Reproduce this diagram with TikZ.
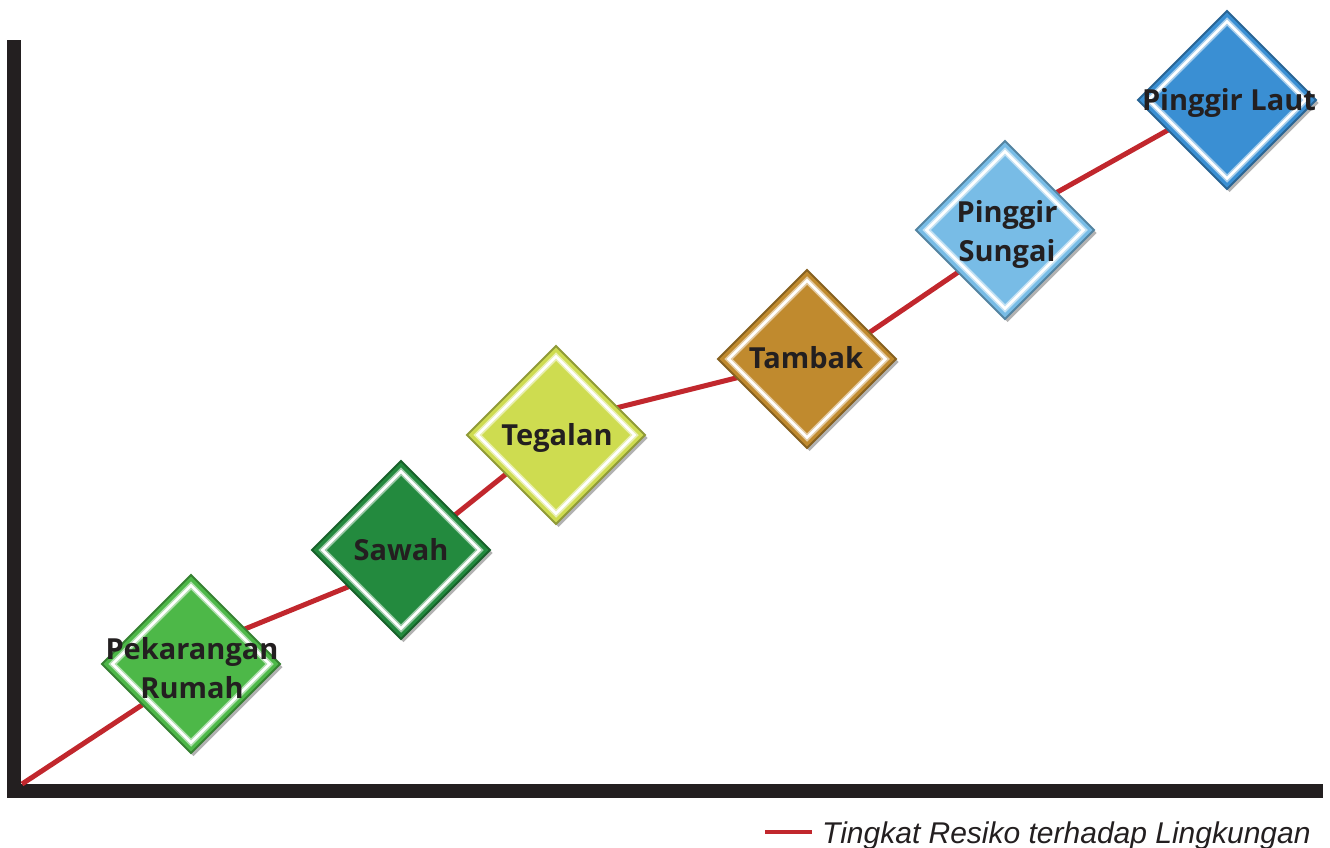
\documentclass[tikz,border=0pt]{standalone}
\usepackage{fontspec}
\setmainfont{Open Sans}
\newfontfamily\legendfont{Liberation Sans}
\usetikzlibrary{shapes.geometric,shadows}
\pgfdeclarelayer{bg}
\pgfsetlayers{bg,main}
\definecolor{axisc}{HTML}{231F20}
\definecolor{textc}{HTML}{231F20}
\definecolor{riskred}{HTML}{C1272D}
\definecolor{cpek}{HTML}{4DB848}
\definecolor{csaw}{HTML}{238A3E}
\definecolor{cteg}{HTML}{CEDC50}
\definecolor{ctam}{HTML}{C08A2E}
\definecolor{csun}{HTML}{78BCE6}
\definecolor{clau}{HTML}{3A8FD3}
\begin{document}
\begin{tikzpicture}[x=1pt,y=-1pt,
  dia/.style={diamond, aspect=1, minimum width=178pt, minimum height=178pt,
    inner sep=0pt, outer sep=0pt, fill=#1, draw=#1!70!black, line width=1.8pt,
    drop shadow={shadow xshift=2.5pt, shadow yshift=-3pt, opacity=0.3, fill=black}},
  glow/.style={diamond, aspect=1, minimum width=157pt, minimum height=157pt,
    inner sep=0pt, outer sep=0pt, draw=#1!45!white, line width=6pt},
  innerline/.style={diamond, aspect=1, minimum width=157pt, minimum height=157pt,
    inner sep=0pt, outer sep=0pt, draw=white, line width=2.6pt},
  lbl/.style={font=\bfseries\fontsize{29}{39}\selectfont, text=textc,
    align=center, inner sep=0pt},
  riskline/.style={draw=riskred, line width=5pt, line join=round},
]
\useasboundingbox (0,0) rectangle (1330,848);

% diamonds
\node[dia=cpek] (pek) at (191,664) {};
\node[glow=cpek] at (pek) {};
\node[innerline] at (pek) {};
\node[lbl] (pekt) at (192,668) {Pekarangan\\Rumah};

\node[dia=csaw] (saw) at (401,550) {};
\node[glow=csaw] at (saw) {};
\node[innerline] at (saw) {};
\node[lbl] (sawt) at (401,550) {Sawah};

\node[dia=cteg] (teg) at (556,435) {};
\node[glow=cteg] at (teg) {};
\node[innerline] at (teg) {};
\node[lbl] (tegt) at (557,438) {Tegalan};

\node[dia=ctam] (tam) at (807,359) {};
\node[glow=ctam] at (tam) {};
\node[innerline] at (tam) {};
\node[lbl] (tamt) at (806,358) {Tambak};

\node[dia=csun] (sun) at (1005,230) {};
\node[glow=csun] at (sun) {};
\node[innerline] at (sun) {};
\node[lbl] (sunt) at (1007,234) {Pinggir\\Sungai};

\node[dia=clau] (lau) at (1227,100) {};
\node[glow=clau] at (lau) {};
\node[innerline] at (lau) {};
\node[lbl] (laut) at (1229,103) {Pinggir Laut};

% axes and risk line
\coordinate (o) at (22,784);
\begin{pgfonlayer}{bg}
  \fill[axisc] (7,40) rectangle (21,798);
  \fill[axisc] (7,784) rectangle (1323,798);
  \draw[riskline] (o) -- (pek.220) -- (pek.33) -- (saw.215) -- (saw.33)
    -- (teg.218) -- (teg.24) -- (tam.195) -- (tam.23) -- (sun.222)
    -- (sun.36) -- (lau.207) -- (lau.center);
\end{pgfonlayer}

% legend
\coordinate (la) at (765,832);
\coordinate (lb) at (812,832);
\draw[riskred, line width=4pt] (la) -- (lb);
\node[anchor=base west, inner sep=0pt, text=textc,
  font=\legendfont\itshape\fontsize{30}{36}\selectfont] (leg) at (822,843)
  {Tingkat Resiko terhadap Lingkungan};
\end{tikzpicture}
\end{document}
